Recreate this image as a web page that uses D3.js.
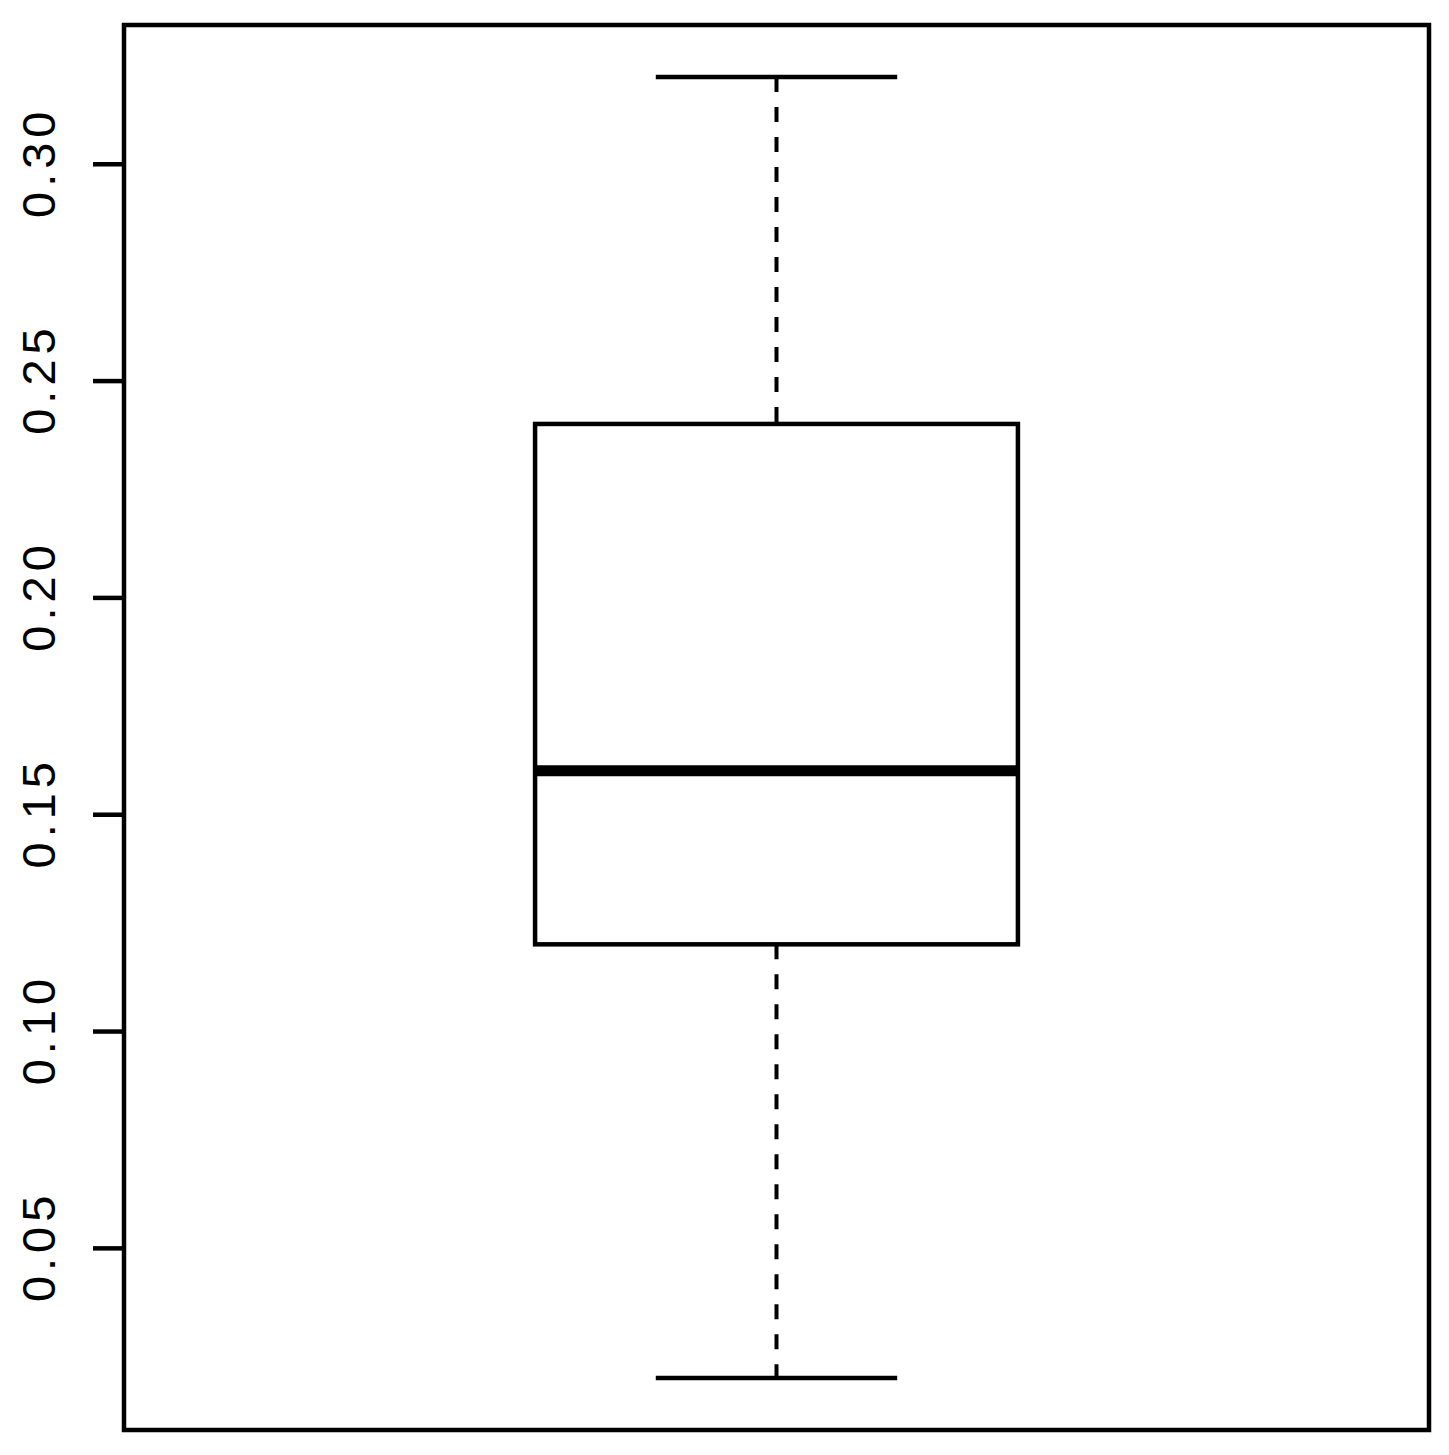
<!DOCTYPE html>
<html>
<head>
<meta charset="utf-8">
<script src="https://cdn.jsdelivr.net/npm/d3@7"></script>
<style>
  body { margin: 0; background: #fff; }
  svg { display: block; }
</style>
</head>
<body>
<div class="container"></div>
<script>
const width = 1449, height = 1455;
const margin = {top: 25, right: 20, bottom: 25, left: 124};

// box statistics: lower whisker, Q1, median, Q3, upper whisker
const groups = [1];
const lowerWhisker = [0.02];
const q1 = [0.12];
const median = [0.16];
const q3 = [0.24];
const upperWhisker = [0.32];
const yTicks = [0.05, 0.10, 0.15, 0.20, 0.25, 0.30];

const svg = d3.select(".container")
    .append("svg")
    .attr("width", width)
    .attr("height", height);

// R style: data range padded by 4% each side
const lo = d3.min(lowerWhisker), hi = d3.max(upperWhisker);
const pad = (hi - lo) * 0.04;
const y = d3.scaleLinear()
    .domain([lo - pad, hi + pad])
    .range([height - margin.bottom, margin.top]);
const x = d3.scaleLinear()
    .domain([0.5, groups.length + 0.5])
    .range([margin.left, width - margin.right]);

const boxHalf = 0.185, capHalf = 0.0925;
const lw = 4.5;

const data = groups.map((g, i) => ({
    g, lw: lowerWhisker[i], q1: q1[i], med: median[i], q3: q3[i], uw: upperWhisker[i]
}));

const box = svg.append("g").selectAll("g")
    .data(data)
    .enter()
    .append("g");

// dashed whiskers
box.append("line")
    .attr("x1", d => x(d.g)).attr("x2", d => x(d.g))
    .attr("y1", d => y(d.uw)).attr("y2", d => y(d.q3))
    .attr("stroke", "#000").attr("stroke-width", 4)
    .attr("stroke-dasharray", "15,15");
box.append("line")
    .attr("x1", d => x(d.g)).attr("x2", d => x(d.g))
    .attr("y1", d => y(d.q1)).attr("y2", d => y(d.lw))
    .attr("stroke", "#000").attr("stroke-width", 4)
    .attr("stroke-dasharray", "15,15");

// caps
box.selectAll(".cap")
    .data(d => [{g: d.g, v: d.uw}, {g: d.g, v: d.lw}])
    .enter()
    .append("line")
    .attr("class", "cap")
    .attr("x1", d => x(d.g - capHalf)).attr("x2", d => x(d.g + capHalf))
    .attr("y1", d => y(d.v)).attr("y2", d => y(d.v))
    .attr("stroke", "#000").attr("stroke-width", lw);

// box
box.append("rect")
    .attr("x", d => x(d.g - boxHalf))
    .attr("width", d => x(d.g + boxHalf) - x(d.g - boxHalf))
    .attr("y", d => y(d.q3))
    .attr("height", d => y(d.q1) - y(d.q3))
    .attr("fill", "#fff")
    .attr("stroke", "#000").attr("stroke-width", lw);

// median
box.append("line")
    .attr("x1", d => x(d.g - boxHalf)).attr("x2", d => x(d.g + boxHalf))
    .attr("y1", d => y(d.med)).attr("y2", d => y(d.med))
    .attr("stroke", "#000").attr("stroke-width", 11);

// y axis
const yAxis = svg.append("g")
    .attr("transform", `translate(${margin.left},0)`)
    .call(d3.axisLeft(y).tickValues(yTicks).tickSize(31).tickFormat(d3.format(".2f")));
yAxis.select(".domain").remove();
yAxis.selectAll(".tick line").attr("stroke", "#000").attr("stroke-width", lw);
yAxis.selectAll(".tick text")
    .attr("transform", "rotate(-90)")
    .attr("x", 2)
    .attr("y", -69)
    .attr("dy", 0)
    .attr("text-anchor", "middle")
    .attr("fill", "#000")
    .style("font-family", "'Liberation Sans', Arial, sans-serif")
    .style("font-size", "47px")
    .style("letter-spacing", "5px");

// plot frame
svg.append("rect")
    .attr("x", margin.left)
    .attr("y", margin.top)
    .attr("width", width - margin.left - margin.right)
    .attr("height", height - margin.top - margin.bottom)
    .attr("fill", "none")
    .attr("stroke", "#000")
    .attr("stroke-width", lw);
</script>
</body>
</html>
